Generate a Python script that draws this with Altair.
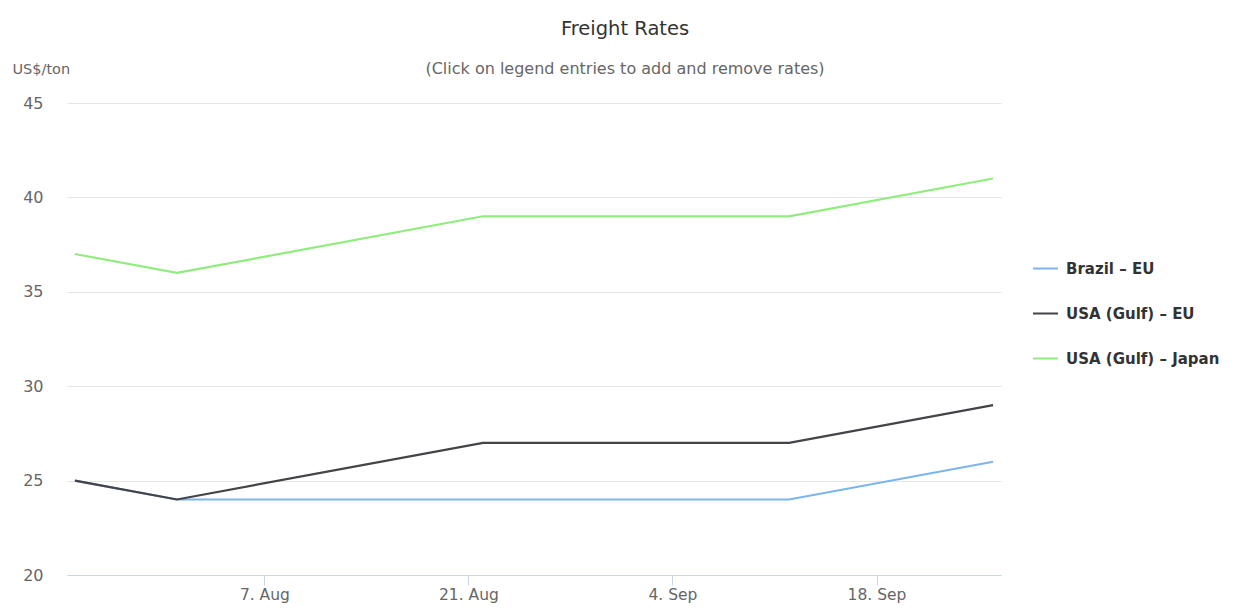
import altair as alt
import pandas as pd

FONT = "DejaVu Sans"

dates = ["2017-07-25", "2017-08-01", "2017-08-22", "2017-08-29",
         "2017-09-05", "2017-09-12", "2017-09-26"]
brazil_eu = [25, 24, 24, 24, 24, 24, 26]
usa_gulf_eu = [25, 24, 27, 27, 27, 27, 29]
usa_gulf_japan = [37, 36, 39, 39, 39, 39, 41]
series_names = ["Brazil – EU", "USA (Gulf) – EU", "USA (Gulf) – Japan"]
series_colors = ["#7cb5ec", "#434348", "#90ed7d"]
x_tick_dates = ["2017-08-07", "2017-08-21", "2017-09-04", "2017-09-18"]
y_ticks = [20, 25, 30, 35, 40, 45]

rows = []
for name, vals in zip(series_names, [brazil_eu, usa_gulf_eu, usa_gulf_japan]):
    for d, v in zip(dates, vals):
        rows.append({"date": d, "value": v, "series": name})
df = pd.DataFrame(rows)


def ms(s, hours=0):
    return int((pd.Timestamp(s) + pd.Timedelta(hours=hours)).value // 10**6)


x_domain = [ms(dates[0], -13), ms(dates[-1], 13)]
x_ticks = [ms(d) for d in x_tick_dates]

chart = alt.Chart(df).mark_line(strokeWidth=2.2).encode(
    x=alt.X("date:T",
            scale=alt.Scale(type="utc", domain=x_domain),
            axis=alt.Axis(values=x_ticks, title=None,
                          labelExpr="utcFormat(datum.value, '%-d. %b')",
                          grid=False, domainColor="#ccd6eb", tickColor="#ccd6eb",
                          tickSize=10, labelPadding=2, labelFontSize=15.5,
                          labelColor="#666666", labelFont=FONT)),
    y=alt.Y("value:Q",
            scale=alt.Scale(domain=[20, 45], nice=False, zero=False),
            axis=alt.Axis(values=y_ticks, title="US$/ton", titleAngle=0,
                          titleAlign="left", titleBaseline="middle",
                          titleX=-55, titleY=-34, titleFontSize=14.5,
                          titleFontWeight="normal", titleColor="#666666",
                          titleFont=FONT,
                          domain=False, ticks=False, tickSize=0, labelPadding=24,
                          gridColor="#e6e6e6", labelFontSize=16,
                          labelColor="#666666", labelFont=FONT)),
    color=alt.Color("series:N",
                    scale=alt.Scale(domain=series_names, range=series_colors),
                    legend=alt.Legend(title=None, orient="none", legendX=965,
                                      legendY=152, symbolType="stroke",
                                      symbolSize=625, symbolStrokeWidth=2,
                                      labelFontSize=15, labelFontWeight="bold",
                                      labelColor="#333333", labelFont=FONT,
                                      labelLimit=300,
                                      labelOffset=7, rowPadding=23, padding=0)),
    order=alt.Order("series_order:Q"),
).transform_calculate(
    series_order="indexof(['Brazil – EU','USA (Gulf) – EU','USA (Gulf) – Japan'], datum.series)"
).properties(
    width=934, height=472,
    padding={"left": 59, "top": 95, "right": 226, "bottom": 29},
    autosize="none",
    title=alt.TitleParams("Freight Rates",
                          subtitle="(Click on legend entries to add and remove rates)",
                          anchor="middle", frame="group", dx=91, dy=17, offset=0,
                          fontSize=19.5, fontWeight="normal", color="#333333",
                          font=FONT, subtitleFont=FONT, subtitleFontSize=16,
                          subtitleColor="#666666", subtitlePadding=22),
).configure_view(stroke=None)

chart.save("out.html", embed_options={"renderer": "svg", "actions": False})
